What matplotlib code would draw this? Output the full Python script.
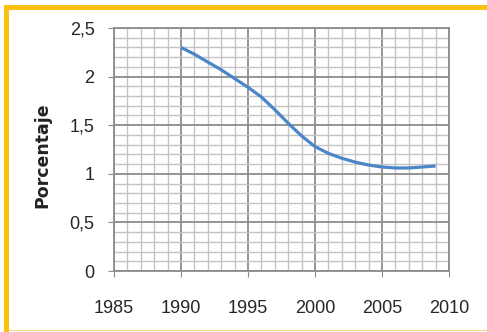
import matplotlib
matplotlib.use("Agg")
import matplotlib.pyplot as plt
from matplotlib.patches import Rectangle
from matplotlib.ticker import MultipleLocator, FuncFormatter

years = [1990, 1991, 1992, 1993, 1994, 1995, 1996, 1997, 1998, 1999,
         2000, 2001, 2002, 2003, 2004, 2005, 2006, 2007, 2008, 2009]
pct = [2.30, 2.23, 2.15, 2.07, 1.98, 1.89, 1.79, 1.66, 1.52, 1.39,
       1.28, 1.21, 1.16, 1.12, 1.09, 1.07, 1.06, 1.06, 1.07, 1.08]

W, H = 487, 332
fig = plt.figure(figsize=(W / 100, H / 100), dpi=100)
fig.patch.set_facecolor("white")

# yellow frame (left, top, thin bottom)
border = "#fcc012"
fig.patches.append(Rectangle((4 / W, 0), 5 / W, 1 - 5 / H, transform=fig.transFigure,
                             facecolor=border, edgecolor="none"))
fig.patches.append(Rectangle((4 / W, 1 - 10 / H), 1, 5 / H, transform=fig.transFigure,
                             facecolor=border, edgecolor="none"))
fig.patches.append(Rectangle((9 / W, 1 / H), 1, 1.2 / H, transform=fig.transFigure,
                             facecolor="#f6d57c", edgecolor="none"))

ax = fig.add_axes([114 / W, (H - 271) / H, 335 / W, 243 / H])
ax.plot(years, pct, color="#4a86c8", lw=2.3, solid_capstyle="butt",
        solid_joinstyle="round", zorder=3)

ax.set_xlim(1985, 2010)
ax.set_ylim(0, 2.5)
ax.xaxis.set_major_locator(MultipleLocator(5))
ax.xaxis.set_minor_locator(MultipleLocator(1))
ax.yaxis.set_major_locator(MultipleLocator(0.5))
ax.yaxis.set_minor_locator(MultipleLocator(0.1))
ax.yaxis.set_major_formatter(FuncFormatter(lambda v, p: f"{v:g}".replace(".", ",")))

ax.grid(which="minor", color="#c4c4c4", lw=1.0)
ax.grid(which="major", color="#8c8c8c", lw=1.3)
ax.set_axisbelow(True)

for s in ax.spines.values():
    s.set_color("#8c8c8c")
    s.set_linewidth(1.3)

ax.tick_params(which="minor", length=0)
ax.tick_params(axis="x", which="major", length=4, color="#8c8c8c", pad=17,
               labelsize=13, labelcolor="#262626")
ax.tick_params(axis="y", which="major", length=4, color="#8c8c8c", pad=10,
               labelsize=13, labelcolor="#262626")
for lab in ax.get_xticklabels() + ax.get_yticklabels():
    lab.set_family("Liberation Sans")

fig.text(42 / W, 1 - 155 / H, "Porcentaje", rotation=90, ha="center", va="center",
         fontsize=12.5, fontweight="bold", family="DejaVu Sans", color="#222222")

fig.savefig("out.png", dpi=100)
